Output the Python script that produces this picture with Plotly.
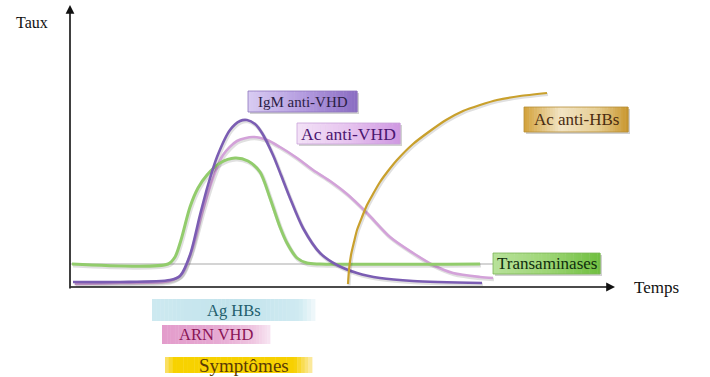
import plotly.graph_objects as go

# ---- data (time units along the x-axis, level units along the y-axis) ----
trans_t = [2, 98, 105, 111, 120, 128, 137, 150, 165, 178, 190, 200, 210, 217, 227, 237, 250, 410]
trans_v = [23, 23, 30, 47, 80, 99, 112, 124, 129, 126, 115, 89, 60, 44, 29, 24, 23, 23]

igm_t = [3, 50, 100, 110, 120, 130, 138, 147, 160, 170, 177, 185, 192, 203, 211, 220, 233, 250, 267, 287, 310, 343, 412]
igm_v = [5, 5, 7, 11, 32, 72, 102, 130, 157, 166, 167, 163, 154, 132, 112, 89, 59, 34, 22, 14, 9, 6, 4]

acvhd_t = [5, 50, 100, 112, 122, 133, 143, 153, 167, 183, 197, 210, 227, 243, 260, 277, 297, 320, 343, 363, 383, 410, 423]
acvhd_v = [3, 4, 6, 13, 37, 77, 109, 132, 146, 150, 147, 140, 129, 117, 106, 93, 74, 50, 34, 22, 14, 10, 9]

achbs_t = [278, 279, 281, 284, 287, 292, 297, 303, 310, 318, 327, 343, 360, 376, 393, 410, 427, 450, 477]
achbs_v = [3, 17, 32, 45, 57, 70, 82, 93, 105, 116, 127, 143, 156, 167, 176, 182, 187, 191, 194]

baseline_t = [0, 423]
baseline_v = [23, 23]

curve_labels = ["IgM anti-VHD", "Ac anti-VHD", "Ac anti-HBs", "Transaminases"]
bar_labels = ["Ag HBs", "ARN VHD", "Symptômes"]
axis_labels = ["Taux", "Temps"]

FONT = "Liberation Serif, Times New Roman, DejaVu Serif, serif"

fig = go.Figure()

def add_curve(t, v, color, width, smoothing=0.8, shadow=True):
    if shadow:
        fig.add_trace(go.Scatter(x=[a + 1 for a in t], y=[b - 1.5 for b in v], mode="lines",
                                 line=dict(color="rgba(0,0,0,0.12)", width=width + 1, shape="spline", smoothing=smoothing),
                                 hoverinfo="skip", showlegend=False))
    fig.add_trace(go.Scatter(x=t, y=v, mode="lines",
                             line=dict(color=color, width=width, shape="spline", smoothing=smoothing),
                             hoverinfo="skip", showlegend=False))

fig.add_trace(go.Scatter(x=baseline_t, y=baseline_v, mode="lines",
                         line=dict(color="#a9a9a9", width=1), hoverinfo="skip", showlegend=False))
add_curve(acvhd_t, acvhd_v, "#d3a2d9", 2.6)
add_curve(trans_t, trans_v, "#92cc6c", 3)
add_curve(igm_t, igm_v, "#7b5db3", 2.6)
add_curve(achbs_t, achbs_v, "#c9a02c", 2.2, smoothing=0.6)

shapes = []

def hexrgb(h):
    h = h.lstrip("#")
    return tuple(int(h[i:i + 2], 16) for i in (0, 2, 4))

def interp(stops, p):
    for (p0, c0), (p1, c1) in zip(stops[:-1], stops[1:]):
        if p0 <= p <= p1:
            f = 0 if p1 == p0 else (p - p0) / (p1 - p0)
            a, b = hexrgb(c0), hexrgb(c1)
            return "rgb(%d,%d,%d)" % tuple(round(a[i] + (b[i] - a[i]) * f) for i in range(3))
    return stops[-1][1]

def gradient_box(x0, x1, y0, y1, stops, border=None, shadow=False, n=40):
    if shadow:
        shapes.append(dict(type="rect", xref="x", yref="y", x0=x0 + 2, x1=x1 + 2, y0=y0 - 2, y1=y1 - 2,
                           fillcolor="rgba(0,0,0,0.18)", line=dict(width=0), layer="above"))
    w = (x1 - x0) / n
    for i in range(n):
        c = interp(stops, (i + 0.5) / n)
        shapes.append(dict(type="rect", xref="x", yref="y", x0=x0 + i * w, x1=x0 + (i + 1) * w + 0.4,
                           y0=y0, y1=y1, fillcolor=c, line=dict(width=0), layer="above"))
    if border:
        shapes.append(dict(type="rect", xref="x", yref="y", x0=x0, x1=x1, y0=y0, y1=y1,
                           fillcolor="rgba(0,0,0,0)", line=dict(color=border, width=0.8), layer="above"))

# label boxes on the curves
gradient_box(178, 287, 175, 196, [(0, "#d9ccf2"), (0.5, "#b49ce0"), (1, "#8a6cc2")], border="#8d75bd", shadow=True)
gradient_box(227, 330, 143, 164, [(0, "#f3e2f7"), (0.5, "#e7c4ef"), (1, "#cf97e2")], border="#c9a2d9", shadow=True)
gradient_box(454, 558, 155, 180, [(0, "#d3a23a"), (0.35, "#f2e4c4"), (0.7, "#e7cf95"), (1, "#c9962c")], border="#b58e36", shadow=True)
gradient_box(423, 530, 13, 34, [(0, "#b8e29a"), (0.5, "#9ed676"), (1, "#6fbf3f")], border="#7cb556", shadow=True)

# bars under the axis
gradient_box(82, 245, -34, -12, [(0, "#cde9f0"), (0.5, "#c2e3ec"), (0.9, "#cfeaf1"), (1, "#f2f9fb")])
gradient_box(92, 200, -57, -38, [(0, "#e39ccb"), (0.5, "#e6a9d2"), (0.85, "#efc6e1"), (1, "#f8e6f2")])
gradient_box(95, 242, -86, -70, [(0, "#fbe27a"), (0.06, "#f7d200"), (0.88, "#f7d000"), (1, "#fcecad")])

fig.update_layout(shapes=shapes)

anns = []
def label(x, y, text, color, size):
    anns.append(dict(x=x, y=y, xref="x", yref="y", text=text, showarrow=False,
                     font=dict(family=FONT, size=size, color=color), xanchor="center", yanchor="middle"))

label(232.5, 185.5, curve_labels[0], "#2b1d45", 15)
label(278.5, 153.5, curve_labels[1], "#4b1670", 17.5)
label(506, 167.5, curve_labels[2], "#4a2c10", 17)
label(476.5, 23.5, curve_labels[3], "#0f2e0c", 17)
label(164, -23, bar_labels[0], "#245e6d", 16.5)
label(146, -47.5, bar_labels[1], "#8a1556", 16.5)
label(173.5, -78, bar_labels[2], "#5a3b05", 19)

label(-38, 265, axis_labels[0], "#111111", 16)
label(586, 0, axis_labels[1], "#111111", 17)

# axis arrows
anns.append(dict(x=0, y=282, ax=0, ay=-3, xref="x", yref="y", axref="x", ayref="y", text="",
                 showarrow=True, arrowhead=2, arrowsize=1.1, arrowwidth=1.6, arrowcolor="#111111"))
anns.append(dict(x=545, y=0, ax=-1, ay=0, xref="x", yref="y", axref="x", ayref="y", text="",
                 showarrow=True, arrowhead=2, arrowsize=1.1, arrowwidth=1.6, arrowcolor="#111111"))

fig.update_layout(
    annotations=anns,
    width=710, height=377,
    margin=dict(l=0, r=0, t=0, b=0),
    paper_bgcolor="white", plot_bgcolor="white",
    xaxis=dict(range=[-70, 640], visible=False, fixedrange=True),
    yaxis=dict(range=[-90, 287], visible=False, fixedrange=True),
    showlegend=False,
)

fig.write_html("out.html", config={"displayModeBar": False},
               post_script="document.body.style.margin='0';document.body.style.overflow='hidden';")
